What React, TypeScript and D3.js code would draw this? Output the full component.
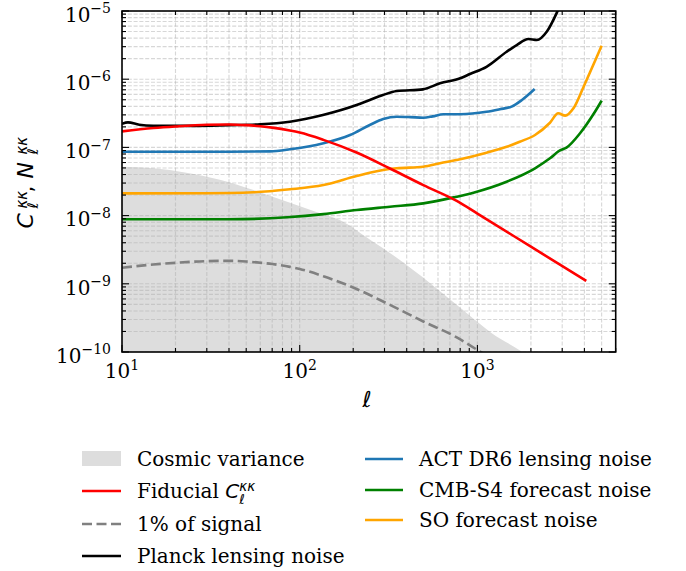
import React from 'react';
import * as d3 from 'd3';

const W = 686, H = 571;
const PL = 122, PR = 615.7, PT = 11, PB = 352;

// Fiducial kappa spectrum
const ellFid = [10, 15, 20, 30, 40, 50, 60, 70, 88, 100, 136, 209, 322, 496, 765, 1000, 2000, 4100];
const clFid = [1.72e-7, 1.92e-7, 2.03e-7, 2.15e-7, 2.17e-7, 2.12e-7, 2.04e-7, 1.95e-7, 1.77e-7, 1.65e-7, 1.29e-7, 8.4e-8, 4.9e-8, 2.8e-8, 1.64e-8, 1.07e-8, 3.5e-9, 1.1e-9];
// 1% of signal
const onePct = [1.72e-9, 1.92e-9, 2.03e-9, 2.15e-9, 2.17e-9, 2.12e-9, 2.04e-9, 1.95e-9, 1.77e-9, 1.65e-9, 1.29e-9, 8.4e-10, 4.9e-10, 2.8e-10, 1.64e-10, 1.07e-10, 3.5e-11, 1.1e-11];
// Cosmic variance upper boundary
const ellCV = [10, 15, 23, 36, 55, 85, 130, 168, 250, 350, 540, 830, 1200, 1820, 2500, 4100];
const cvVals = [5.2e-8, 4.94e-8, 4.26e-8, 3.33e-8, 2.37e-8, 1.6e-8, 1.08e-8, 8.6e-9, 4.38e-9, 2.43e-9, 1.03e-9, 4.13e-10, 1.9e-10, 9.7e-11, 5e-11, 1.5e-11];
// Planck
const ellPlanck = [10, 10.8, 12.5, 15, 25, 40, 60, 88, 135, 209, 248, 294, 352, 494, 616, 800, 908, 1125, 1460, 1665, 1935, 2160, 2460, 2790, 2950];
const nPlanck = [2.22e-7, 2.33e-7, 2.15e-7, 2.08e-7, 2.07e-7, 2.12e-7, 2.18e-7, 2.38e-7, 2.99e-7, 4.19e-7, 4.96e-7, 5.86e-7, 6.7e-7, 7.1e-7, 8.7e-7, 1.03e-6, 1.19e-6, 1.52e-6, 2.53e-6, 3.17e-6, 3.89e-6, 3.76e-6, 5.0e-6, 9.3e-6, 1.3e-5];
// ACT DR6
const ellACT = [10, 40, 68, 88, 136, 192, 248, 295, 352, 420, 496, 560, 643, 800, 1125, 1337, 1557, 1780, 2100];
const nACT = [8.65e-8, 8.65e-8, 8.75e-8, 9.37e-8, 1.15e-7, 1.52e-7, 2.13e-7, 2.61e-7, 2.82e-7, 2.78e-7, 2.72e-7, 2.85e-7, 3.07e-7, 3.07e-7, 3.33e-7, 3.63e-7, 3.96e-7, 4.96e-7, 7.18e-7];
// CMB-S4
const ellS4 = [10, 40, 85, 136, 209, 322, 496, 735, 950, 1460, 2110, 2560, 2900, 3170, 3780, 4530, 5000];
const nS4 = [8.83e-9, 8.83e-9, 9.44e-9, 1.05e-8, 1.21e-8, 1.35e-8, 1.51e-8, 1.85e-8, 2.17e-8, 3.14e-8, 4.94e-8, 6.92e-8, 8.95e-8, 9.9e-8, 1.61e-7, 3.16e-7, 4.84e-7];
// SO
const ellSO = [10, 30, 55, 88, 136, 209, 295, 352, 496, 616, 800, 1125, 1460, 1730, 2110, 2560, 2850, 3120, 3470, 3960, 4530, 5000];
const nSO = [2.12e-8, 2.13e-8, 2.2e-8, 2.43e-8, 2.81e-8, 3.81e-8, 4.67e-8, 4.94e-8, 5.21e-8, 5.85e-8, 6.7e-8, 8.36e-8, 1.02e-7, 1.21e-7, 1.52e-7, 2.3e-7, 3.16e-7, 2.92e-7, 3.74e-7, 7.76e-7, 1.71e-6, 3.1e-6];

const xMajor = [10, 100, 1000];
const xExp = ['1', '2', '3'];
const yMajor = [1e-10, 1e-9, 1e-8, 1e-7, 1e-6, 1e-5];
const yExp = ['\u221210', '\u22129', '\u22128', '\u22127', '\u22126', '\u22125'];

const SERIF = "DejaVu Serif, Liberation Serif, serif";
const SANS = "DejaVu Sans, sans-serif";

export default function App() {
  const x = d3.scaleLog().domain([10, 6000]).range([PL, PR]);
  const y = d3.scaleLog().domain([1e-10, 1e-5]).range([PB, PT]);

  const mk = (ls: number[], vs: number[]) =>
    d3.line<number>().x((_, i) => x(ls[i])).y((v) => y(v)).curve(d3.curveMonotoneX)(vs) || '';
  const cvArea =
    d3.area<number>().x((_, i) => x(ellCV[i])).y0(PB + 20).y1((v) => y(v)).curve(d3.curveMonotoneX)(cvVals) || '';

  const xMinor: number[] = [];
  [10, 100, 1000].forEach((d) => {
    for (let k = 2; k <= 9; k++) if (k * d <= 6000) xMinor.push(k * d);
  });
  const yMinor: number[] = [];
  [1e-10, 1e-9, 1e-8, 1e-7, 1e-6].forEach((d) => {
    for (let k = 2; k <= 9; k++) yMinor.push(k * d);
  });

  const gridStyle = { stroke: '#b0b0b0', strokeOpacity: 0.5, strokeWidth: 1.1, strokeDasharray: '4,1.8' };
  const lw = 2.6;
  const MAJ = 7, MIN = 4;

  const legendFs = 20;
  const col1 = [459, 491, 524, 556];
  const col2 = [459, 490, 520];

  return (
    <svg width={W} height={H} style={{ position: 'absolute', left: 0, top: 0, background: '#fff' }}>
      <defs>
        <clipPath id="plotclip">
          <rect x={PL} y={PT} width={PR - PL} height={PB - PT} />
        </clipPath>
      </defs>
      <rect x={0} y={0} width={W} height={H} fill="#fff" />
      <g clipPath="url(#plotclip)">
        <path d={cvArea} fill="#dddddd" />
        {[...xMajor, ...xMinor].map((v, i) => (
          <line key={'gx' + i} x1={x(v)} x2={x(v)} y1={PT} y2={PB} {...gridStyle} />
        ))}
        {[...yMajor, ...yMinor].map((v, i) => (
          <line key={'gy' + i} x1={PL} x2={PR} y1={y(v)} y2={y(v)} {...gridStyle} />
        ))}
        <path d={mk(ellFid, onePct)} fill="none" stroke="#808080" strokeWidth={lw} strokeDasharray="10,4.5" />
        <path d={mk(ellPlanck, nPlanck)} fill="none" stroke="#000" strokeWidth={lw} />
        <path d={mk(ellACT, nACT)} fill="none" stroke="#1f77b4" strokeWidth={lw} />
        <path d={mk(ellS4, nS4)} fill="none" stroke="#008000" strokeWidth={lw} />
        <path d={mk(ellSO, nSO)} fill="none" stroke="#ffa500" strokeWidth={lw} />
        <path d={mk(ellFid, clFid)} fill="none" stroke="#ff0000" strokeWidth={lw} />
      </g>
      {/* ticks */}
      <g stroke="#000" strokeWidth={1.1}>
        {xMajor.map((v, i) => (
          <g key={'xt' + i}>
            <line x1={x(v)} x2={x(v)} y1={PB} y2={PB - MAJ} />
            <line x1={x(v)} x2={x(v)} y1={PT} y2={PT + MAJ} />
          </g>
        ))}
        {xMinor.map((v, i) => (
          <g key={'xm' + i}>
            <line x1={x(v)} x2={x(v)} y1={PB} y2={PB - MIN} />
            <line x1={x(v)} x2={x(v)} y1={PT} y2={PT + MIN} />
          </g>
        ))}
        {yMajor.map((v, i) => (
          <g key={'yt' + i}>
            <line x1={PL} x2={PL + MAJ} y1={y(v)} y2={y(v)} />
            <line x1={PR} x2={PR - MAJ} y1={y(v)} y2={y(v)} />
          </g>
        ))}
        {yMinor.map((v, i) => (
          <g key={'ym' + i}>
            <line x1={PL} x2={PL + MIN} y1={y(v)} y2={y(v)} />
            <line x1={PR} x2={PR - MIN} y1={y(v)} y2={y(v)} />
          </g>
        ))}
      </g>
      <rect x={PL} y={PT} width={PR - PL} height={PB - PT} fill="none" stroke="#000" strokeWidth={1.6} />
      {/* tick labels */}
      <g style={{ fontFamily: SERIF }} fontSize={20} fill="#000">
        {xMajor.map((v, i) => (
          <text key={'xl' + i} x={x(v)} y={378} textAnchor="middle">
            <tspan>10</tspan>
            <tspan fontSize={14} dy={-8.5}>{xExp[i]}</tspan>
          </text>
        ))}
        {yMajor.map((v, i) => (
          <text key={'yl' + i} x={111} y={y(v) + 10.7} textAnchor="end">
            <tspan>10</tspan>
            <tspan fontSize={14} dy={-8.5}>{yExp[i]}</tspan>
          </text>
        ))}
      </g>
      {/* x label */}
      <text x={367} y={407} textAnchor="middle" style={{ fontFamily: SANS }} fontStyle="italic" fontSize={22}>ℓ</text>
      {/* y label */}
      <g transform={`translate(33, ${(PT + PB) / 2}) rotate(-90)`} style={{ fontFamily: SANS }} fill="#000">
        <text x={-47} y={0} fontSize={22} fontStyle="italic">C</text>
        <text x={-27} y={-6} fontSize={15} fontStyle="italic">κκ</text>
        <text x={-27} y={5} fontSize={15} fontStyle="italic">ℓ</text>
        <text x={-11} y={0} fontSize={22}>,</text>
        <text x={3} y={0} fontSize={22} fontStyle="italic">N</text>
        <text x={27} y={-6} fontSize={15} fontStyle="italic">κκ</text>
        <text x={27} y={5} fontSize={15} fontStyle="italic">ℓ</text>
      </g>
      {/* legend */}
      <g style={{ fontFamily: SERIF }} fontSize={legendFs} fill="#000">
        <rect x={82} y={451} width={39} height={15} fill="#dddddd" />
        <text x={137} y={col1[0] + 7}>Cosmic variance</text>
        <line x1={82} x2={121} y1={col1[1]} y2={col1[1]} stroke="#ff0000" strokeWidth={lw} />
        <text x={137} y={col1[1] + 7}>
          <tspan>Fiducial{'\u00a0'}</tspan>
          <tspan style={{ fontFamily: SANS }} fontStyle="italic">C</tspan>
          <tspan style={{ fontFamily: SANS }} fontStyle="italic" fontSize={13.5} dy={-7}>κκ</tspan>
          <tspan style={{ fontFamily: SANS }} fontStyle="italic" fontSize={13.5} dx={-15.8} dy={13}>ℓ</tspan>
        </text>
        <line x1={82} x2={121} y1={col1[2]} y2={col1[2]} stroke="#808080" strokeWidth={lw} strokeDasharray="10,4.5" />
        <text x={137} y={col1[2] + 7}>1% of signal</text>
        <line x1={82} x2={121} y1={col1[3]} y2={col1[3]} stroke="#000" strokeWidth={lw} />
        <text x={137} y={col1[3] + 7}>Planck lensing noise</text>

        <line x1={365} x2={403} y1={col2[0]} y2={col2[0]} stroke="#1f77b4" strokeWidth={lw} />
        <text x={419} y={col2[0] + 7}>ACT DR6 lensing noise</text>
        <line x1={365} x2={403} y1={col2[1]} y2={col2[1]} stroke="#008000" strokeWidth={lw} />
        <text x={419} y={col2[1] + 7}>CMB-S4 forecast noise</text>
        <line x1={365} x2={403} y1={col2[2]} y2={col2[2]} stroke="#ffa500" strokeWidth={lw} />
        <text x={419} y={col2[2] + 7}>SO forecast noise</text>
      </g>
    </svg>
  );
}
